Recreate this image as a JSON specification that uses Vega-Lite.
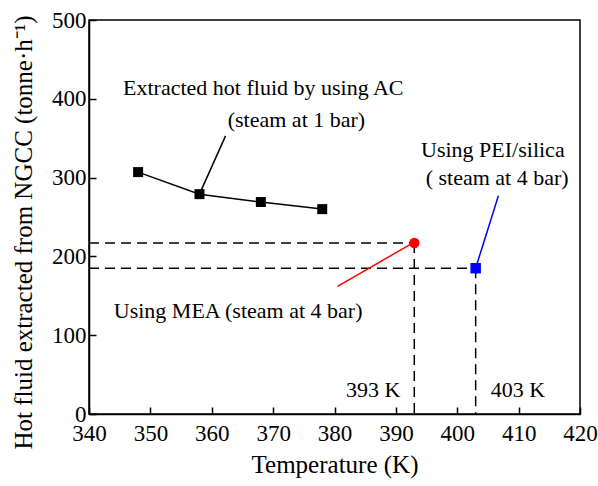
{
  "$schema": "https://vega.github.io/schema/vega-lite/v6.json",
  "autosize": "none",
  "padding": {"left": 89, "top": 20, "right": 18, "bottom": 72},
  "width": 491,
  "height": 394,
  "config": {
    "font": "Times New Roman, Liberation Serif, serif",
    "view": {"stroke": "black", "strokeWidth": 1.5},
    "axis": {
      "grid": false,
      "labelFlush": false,
      "domainColor": "black",
      "domainWidth": 1.5,
      "tickColor": "black",
      "tickWidth": 1.5,
      "tickSize": -7,
      "labelFont": "Times New Roman, Liberation Serif, serif",
      "labelFontSize": 23,
      "labelColor": "black",
      "titleFont": "Times New Roman, Liberation Serif, serif",
      "titleFontSize": 25,
      "titleFontWeight": "normal",
      "titleColor": "black"
    }
  },
  "datasets": {
    "ac": [
      {"T": 348, "F": 307},
      {"T": 358, "F": 279},
      {"T": 368, "F": 269},
      {"T": 378, "F": 260}
    ],
    "dash": [
      {"x": 340, "y": 217, "x2": 393, "y2": 217},
      {"x": 340, "y": 185, "x2": 403, "y2": 185},
      {"x": 393, "y": 217, "x2": 393, "y2": 0},
      {"x": 403, "y": 185, "x2": 403, "y2": 0}
    ],
    "lead": [
      {"x": 358, "y": 279, "x2": 362.25, "y2": 353, "c": "black"},
      {"x": 380.5, "y": 162, "x2": 392.3, "y2": 215, "c": "red"},
      {"x": 403, "y": 185, "x2": 406.7, "y2": 277, "c": "blue"}
    ],
    "texts": [
      {"x": 368.4, "y": 414, "t": "Extracted hot fluid by using AC"},
      {"x": 373.8, "y": 373.5, "t": "(steam at 1 bar)"},
      {"x": 405.8, "y": 335.4, "t": "Using PEI/silica"},
      {"x": 406.5, "y": 300, "t": "( steam at 4 bar)"},
      {"x": 364.3, "y": 130.2, "t": "Using MEA (steam at 4 bar)"},
      {"x": 386.3, "y": 30.8, "t": "393 K"},
      {"x": 409.9, "y": 30.8, "t": "403 K"}
    ],
    "pts": [
      {"T": 393, "F": 217, "shape": "circle", "c": "red"},
      {"T": 403, "F": 185, "shape": "square", "c": "blue"}
    ]
  },
  "layer": [
    {
      "data": {"name": "dash"},
      "mark": {"type": "rule", "color": "black", "strokeWidth": 1.5, "strokeDash": [10, 6]},
      "encoding": {
        "x": {"field": "x", "type": "quantitative", "scale": {"domain": [340, 420], "nice": false}, "axis": {"values": [340, 350, 360, 370, 380, 390, 400, 410, 420], "title": "Temperature (K)", "labelPadding": 15, "titlePadding": 7}},
        "y": {"field": "y", "type": "quantitative", "scale": {"domain": [0, 500], "nice": false}, "axis": {"values": [0, 100, 200, 300, 400, 500], "title": "Hot fluid extracted from NGCC (tonne·h⁻¹)", "titleFontSize": 25, "titleY": 212, "labelPadding": 10, "titlePadding": 15}},
        "x2": {"field": "x2"},
        "y2": {"field": "y2"}
      }
    },
    {
      "data": {"name": "lead"},
      "mark": {"type": "rule", "strokeWidth": 1.5},
      "encoding": {
        "x": {"field": "x", "type": "quantitative"},
        "y": {"field": "y", "type": "quantitative"},
        "x2": {"field": "x2"},
        "y2": {"field": "y2"},
        "color": {"field": "c", "type": "nominal", "scale": null}
      }
    },
    {
      "data": {"name": "ac"},
      "mark": {"type": "line", "color": "black", "strokeWidth": 1.5},
      "encoding": {
        "x": {"field": "T", "type": "quantitative"},
        "y": {"field": "F", "type": "quantitative"}
      }
    },
    {
      "data": {"name": "ac"},
      "mark": {"type": "point", "shape": "square", "filled": true, "color": "black", "size": 100, "opacity": 1},
      "encoding": {
        "x": {"field": "T", "type": "quantitative"},
        "y": {"field": "F", "type": "quantitative"}
      }
    },
    {
      "data": {"name": "pts"},
      "mark": {"type": "point", "filled": true, "size": 110, "opacity": 1},
      "encoding": {
        "x": {"field": "T", "type": "quantitative"},
        "y": {"field": "F", "type": "quantitative"},
        "shape": {"field": "shape", "type": "nominal", "scale": null},
        "color": {"field": "c", "type": "nominal", "scale": null}
      }
    },
    {
      "data": {"name": "texts"},
      "mark": {"type": "text", "font": "Times New Roman, Liberation Serif, serif", "fontSize": 22, "color": "black", "align": "center", "baseline": "middle"},
      "encoding": {
        "x": {"field": "x", "type": "quantitative"},
        "y": {"field": "y", "type": "quantitative"},
        "text": {"field": "t"}
      }
    }
  ]
}
